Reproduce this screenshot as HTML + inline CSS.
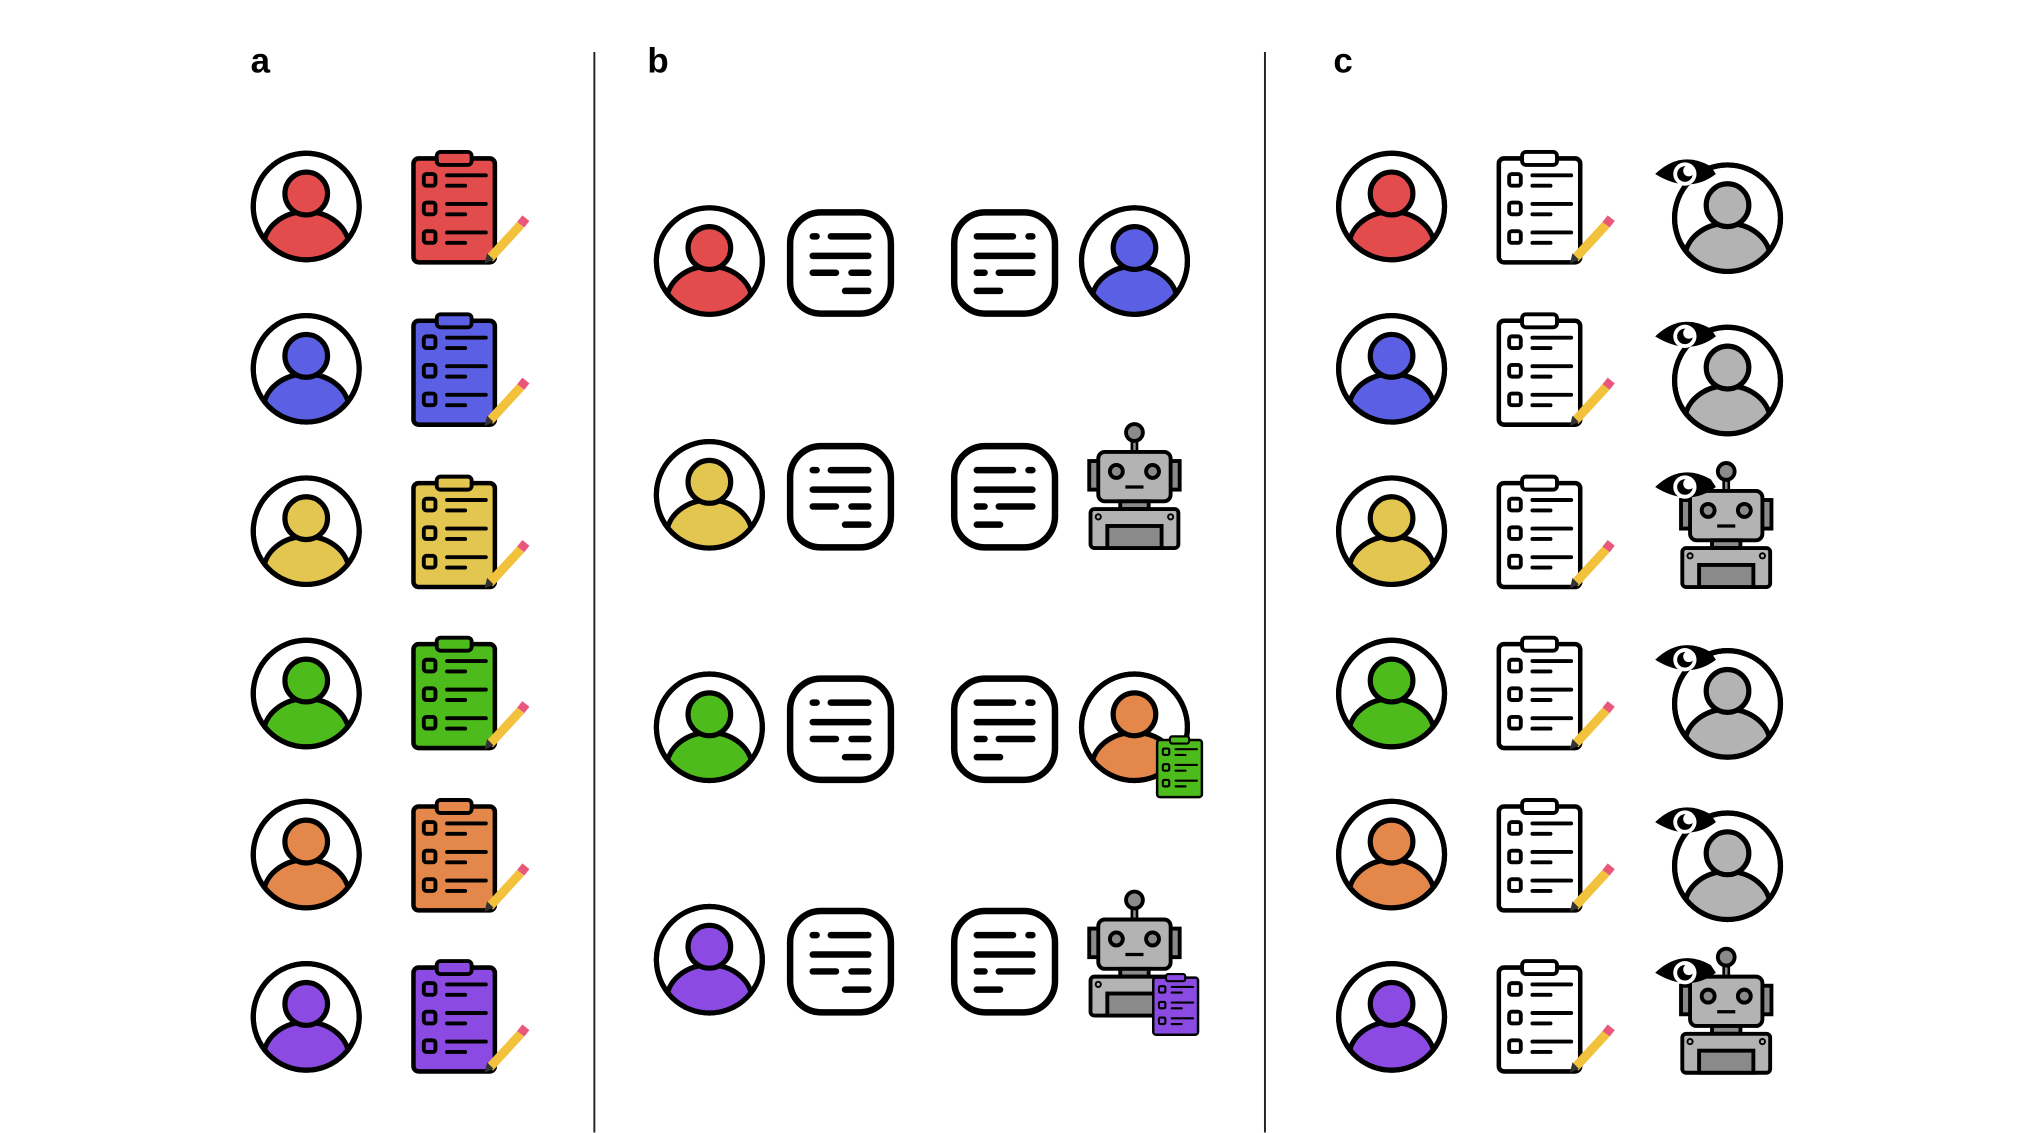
<!DOCTYPE html>
<html><head><meta charset="utf-8"><style>
html,body{margin:0;padding:0;background:#fff;}
svg{display:block;}
</style></head><body>
<svg width="2026" height="1133" viewBox="0 0 1568 872.4" preserveAspectRatio="none" xmlns="http://www.w3.org/2000/svg">
<defs>
<clipPath id="cc"><circle cx="0" cy="0" r="40"/></clipPath>
<g id="p">
  <circle cx="0" cy="0" r="41" fill="#fff" stroke="#000" stroke-width="4"/>
  <g clip-path="url(#cc)">
    <ellipse cx="0" cy="31" rx="33" ry="27" fill="currentColor" stroke="#000" stroke-width="4"/>
  </g>
  <circle cx="0" cy="0" r="41" fill="none" stroke="#000" stroke-width="4"/>
  <circle cx="0" cy="-10" r="16.5" fill="currentColor" stroke="#000" stroke-width="4"/>
</g>
<g id="cb">
  <rect x="1" y="5" width="63" height="80" rx="4" fill="currentColor" stroke="#000" stroke-width="3.5"/>
  <rect x="19" y="0" width="27" height="10" rx="3" fill="currentColor" stroke="#000" stroke-width="3"/>
  <rect x="9" y="17" width="9" height="9" rx="2" fill="none" stroke="#000" stroke-width="3"/>
  <rect x="9" y="39" width="9" height="9" rx="2" fill="none" stroke="#000" stroke-width="3"/>
  <rect x="9" y="61" width="9" height="9" rx="2" fill="none" stroke="#000" stroke-width="3"/>
  <g stroke="#000" stroke-width="3" stroke-linecap="round">
    <line x1="27" y1="18" x2="57" y2="18"/><line x1="27" y1="26" x2="41" y2="26"/>
    <line x1="27" y1="40" x2="57" y2="40"/><line x1="27" y1="48" x2="41" y2="48"/>
    <line x1="27" y1="62" x2="57" y2="62"/><line x1="27" y1="70" x2="41" y2="70"/>
  </g>
</g>
<g id="pen">
  <line x1="60" y1="82" x2="84" y2="56" stroke="#f2c23c" stroke-width="7" stroke-linecap="butt"/>
  <line x1="84" y1="56" x2="88" y2="51" stroke="#e9577a" stroke-width="7"/>
  <polygon points="56,86 58,78 63,83" fill="#333"/>
</g>
<g id="bub">
  <rect x="2.5" y="2.5" width="78" height="78" rx="24" fill="#fff" stroke="#000" stroke-width="5"/>
  <g stroke="#000" stroke-width="5" stroke-linecap="round">
    <line x1="20" y1="21" x2="23" y2="21"/><line x1="34" y1="21" x2="63" y2="21"/>
    <line x1="20" y1="36" x2="63" y2="36"/>
    <line x1="20" y1="49" x2="38" y2="49"/><line x1="50" y1="49" x2="63" y2="49"/>
    <line x1="45" y1="63" x2="63" y2="63"/>
  </g>
</g>
<g id="bubR">
  <rect x="2.5" y="2.5" width="78" height="78" rx="24" fill="#fff" stroke="#000" stroke-width="5"/>
  <g stroke="#000" stroke-width="5" stroke-linecap="round">
    <line x1="20" y1="21" x2="48" y2="21"/><line x1="60" y1="21" x2="63" y2="21"/>
    <line x1="20" y1="36" x2="63" y2="36"/>
    <line x1="20" y1="49" x2="26" y2="49"/><line x1="37" y1="49" x2="63" y2="49"/>
    <line x1="20" y1="63" x2="38" y2="63"/>
  </g>
</g>
<g id="rob" stroke="#000" stroke-width="3">
  <line x1="0" y1="12" x2="0" y2="24" stroke-width="6"/>
  <line x1="0" y1="12" x2="0" y2="24" stroke="#8a8a8a" stroke-width="2"/>
  <circle cx="0" cy="8" r="6.5" fill="#8a8a8a"/>
  <rect x="-35" y="30" width="8" height="22" fill="#8a8a8a"/>
  <rect x="27" y="30" width="8" height="22" fill="#8a8a8a"/>
  <rect x="-28" y="23" width="56" height="38" rx="5" fill="#b3b3b3"/>
  <circle cx="-14" cy="38" r="5" fill="#8a8a8a"/>
  <circle cx="14" cy="38" r="5" fill="#8a8a8a"/>
  <line x1="-7" y1="50" x2="7" y2="50" stroke-width="2.5"/>
  <rect x="-11" y="61" width="22" height="6" fill="#8a8a8a"/>
  <rect x="-34" y="67" width="68" height="30" rx="3" fill="#b3b3b3"/>
  <rect x="-21" y="80" width="42" height="17" fill="#8a8a8a"/>
  <circle cx="-28" cy="73" r="2" fill="none" stroke-width="1.5"/>
  <circle cx="28" cy="73" r="2" fill="none" stroke-width="1.5"/>
</g>
<g id="eye">
  <path d="M-22,0 Q-2,-19 21,-6 L25,0 Q4,16 -22,0 Z" fill="#000"/>
  <circle cx="1" cy="0" r="9" fill="#fff"/>
  <circle cx="1" cy="0" r="6" fill="#000"/>
  <circle cx="4" cy="-2.5" r="4.3" fill="#fff"/>
</g>
</defs>

<g font-family="Liberation Sans, sans-serif" font-weight="bold" font-size="27" fill="#000">
  <text x="194" y="56">a</text>
  <text x="501" y="56">b</text>
  <text x="1032" y="56">c</text>
</g>
<line x1="460" y1="40" x2="460" y2="872" stroke="#222" stroke-width="1.5"/>
<line x1="979" y1="40" x2="979" y2="872" stroke="#222" stroke-width="1.5"/>

<!-- panel a -->
<use href="#p" x="237" y="159" color="#e24c4c"/>
<use href="#p" x="237" y="284" color="#5b5fe3"/>
<use href="#p" x="237" y="409" color="#e3c650"/>
<use href="#p" x="237" y="534" color="#4dbb1c"/>
<use href="#p" x="237" y="658" color="#e3884a"/>
<use href="#p" x="237" y="783" color="#8b4ae2"/>
<use href="#cb" x="319" y="117" color="#e24c4c"/><use href="#pen" x="319" y="117"/>
<use href="#cb" x="319" y="242" color="#5b5fe3"/><use href="#pen" x="319" y="242"/>
<use href="#cb" x="319" y="367" color="#e3c650"/><use href="#pen" x="319" y="367"/>
<use href="#cb" x="319" y="491" color="#4dbb1c"/><use href="#pen" x="319" y="491"/>
<use href="#cb" x="319" y="616" color="#e3884a"/><use href="#pen" x="319" y="616"/>
<use href="#cb" x="319" y="740" color="#8b4ae2"/><use href="#pen" x="319" y="740"/>

<!-- panel b -->
<use href="#p" x="549" y="201" color="#e24c4c"/>
<use href="#p" x="549" y="381" color="#e3c650"/>
<use href="#p" x="549" y="560" color="#4dbb1c"/>
<use href="#p" x="549" y="739" color="#8b4ae2"/>
<use href="#bub" x="609" y="161"/><use href="#bub" x="609" y="341"/><use href="#bub" x="609" y="520"/><use href="#bub" x="609" y="699"/>
<use href="#bubR" x="736" y="161"/><use href="#bubR" x="736" y="341"/><use href="#bubR" x="736" y="520"/><use href="#bubR" x="736" y="699"/>
<use href="#p" x="878" y="201" color="#5b5fe3"/>
<use href="#rob" x="878" y="325"/>
<use href="#p" x="878" y="560" color="#e3884a"/>
<g transform="translate(895,567) scale(0.55)"><use href="#cb" color="#4dbb1c"/></g>
<use href="#rob" x="878" y="685"/>
<g transform="translate(892,750) scale(0.55)"><use href="#cb" color="#8b4ae2"/></g>

<!-- panel c -->
<use href="#p" x="1077" y="159" color="#e24c4c"/>
<use href="#p" x="1077" y="284" color="#5b5fe3"/>
<use href="#p" x="1077" y="409" color="#e3c650"/>
<use href="#p" x="1077" y="534" color="#4dbb1c"/>
<use href="#p" x="1077" y="658" color="#e3884a"/>
<use href="#p" x="1077" y="783" color="#8b4ae2"/>
<use href="#cb" x="1159" y="117" color="#fff"/><use href="#pen" x="1159" y="117"/>
<use href="#cb" x="1159" y="242" color="#fff"/><use href="#pen" x="1159" y="242"/>
<use href="#cb" x="1159" y="367" color="#fff"/><use href="#pen" x="1159" y="367"/>
<use href="#cb" x="1159" y="491" color="#fff"/><use href="#pen" x="1159" y="491"/>
<use href="#cb" x="1159" y="616" color="#fff"/><use href="#pen" x="1159" y="616"/>
<use href="#cb" x="1159" y="740" color="#fff"/><use href="#pen" x="1159" y="740"/>
<use href="#p" x="1337" y="168" color="#b3b3b3"/><use href="#eye" x="1303" y="134"/>
<use href="#p" x="1337" y="293" color="#b3b3b3"/><use href="#eye" x="1303" y="259"/>
<use href="#rob" x="1336" y="355"/><use href="#eye" x="1303" y="375"/>
<use href="#p" x="1337" y="542" color="#b3b3b3"/><use href="#eye" x="1303" y="508"/>
<use href="#p" x="1337" y="667" color="#b3b3b3"/><use href="#eye" x="1303" y="633"/>
<use href="#rob" x="1336" y="729"/><use href="#eye" x="1303" y="749"/>
</svg>
</body></html>
